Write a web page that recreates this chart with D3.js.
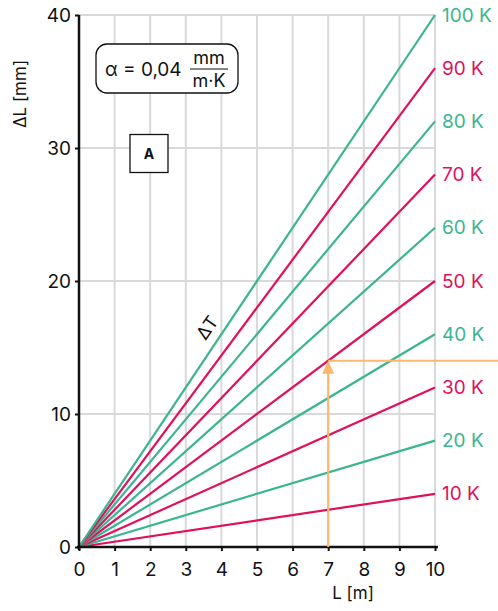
<!DOCTYPE html>
<html><head><meta charset="utf-8">
<script src="https://cdn.jsdelivr.net/npm/d3@7"></script>
<style>body{margin:0;background:#fff}svg{display:block;font-family:Inter,"Noto Sans",sans-serif}</style>
</head><body>
<script>
const deltaT = [10,20,30,40,50,60,70,80,90,100];
const lineLabels = ["10 K","20 K","30 K","40 K","50 K","60 K","70 K","80 K","90 K","100 K"];
const alpha = 0.04;
const lengthRange = [0,10];
const xTicks = [0,1,2,3,4,5,6,7,8,9,10];
const yTicks = [0,10,20,30,40];
const exampleL = [7];
const exampleDL = [14];
const green = "#3bb58f", pink = "#e0105c", orange = "#fdb66c";

const W=498,H=611;
const svg=d3.select("body").append("svg").attr("width",W).attr("height",H);
const x=d3.scaleLinear().domain([0,10]).range([79,435]);
const y=d3.scaleLinear().domain([0,40]).range([547,15]);

// grid
svg.append("g").selectAll("line").data(xTicks.slice(1)).join("line")
 .attr("x1",d=>x(d)).attr("x2",d=>x(d)).attr("y1",y(0)).attr("y2",y(40))
 .attr("stroke","#d9d9d9").attr("stroke-width",2);
svg.append("g").selectAll("line").data(yTicks.slice(1)).join("line")
 .attr("x1",x(0)).attr("x2",x(10)).attr("y1",d=>y(d)).attr("y2",d=>y(d))
 .attr("stroke","#d9d9d9").attr("stroke-width",2);

// lines
const lg=svg.append("g");
deltaT.forEach((t,i)=>{
  const c = (t/10)%2===0?green:pink;
  lg.append("line").attr("x1",x(lengthRange[0])).attr("y1",y(alpha*lengthRange[0]*t))
    .attr("x2",x(lengthRange[1])).attr("y2",y(alpha*lengthRange[1]*t))
    .attr("stroke",c).attr("stroke-width",2.2);
  svg.append("text").attr("x",x(10)+7).attr("y",y(alpha*10*t)).attr("dy","0.35em")
    .attr("fill",c).attr("font-size",19).text(lineLabels[i]);
});

// axes
const xa=svg.append("g").attr("transform",`translate(0,${y(0)})`)
 .call(d3.axisBottom(x).tickValues(xTicks).tickSize(4).tickSizeOuter(0));
const ya=svg.append("g").attr("transform",`translate(${x(0)},0)`)
 .call(d3.axisLeft(y).tickValues(yTicks).tickSize(4).tickSizeOuter(0));
[xa,ya].forEach(a=>{a.select(".domain").attr("stroke","#111").attr("stroke-width",2.5);
 a.selectAll(".tick line").attr("stroke","#111").attr("stroke-width",2);
 a.selectAll("text").attr("font-size",19).attr("fill","#111").attr("font-family","Inter,sans-serif");});
xa.select(".domain").attr("d",`M${x(0)-2},0H${x(10)+3}`);
ya.select(".domain").attr("d",`M0,${y(40)}V${y(0)+3}`);
xa.selectAll("text").attr("dy","1.15em");
ya.selectAll("text").attr("dx","-1px");

// axis titles
svg.append("text").attr("transform","translate(26,94) rotate(-90)").attr("text-anchor","middle")
 .attr("font-size",17).attr("fill","#111").text("ΔL [mm]");
svg.append("text").attr("x",353).attr("y",599).attr("text-anchor","middle")
 .attr("font-size",17).attr("fill","#111").text("L [m]");

// ΔT label
svg.append("text").attr("transform",`translate(${x(3.6)},${y(16.5)}) rotate(-55)`).attr("text-anchor","middle")
 .attr("dy","0.35em").attr("font-size",18).attr("fill","#111").text("ΔT");

// example orange
const ex=exampleL[0], ey=exampleDL[0];
svg.append("line").attr("x1",x(ex)).attr("x2",x(ex)).attr("y1",y(0)).attr("y2",y(ey)+8)
 .attr("stroke",orange).attr("stroke-width",2);
svg.append("line").attr("x1",x(ex)).attr("x2",W).attr("y1",y(ey)).attr("y2",y(ey))
 .attr("stroke",orange).attr("stroke-width",2);
svg.append("path").attr("d",`M${x(ex)},${y(ey)}l-6,13h12z`).attr("fill",orange);

// alpha box
svg.append("rect").attr("x",96).attr("y",44).attr("width",142).attr("height",49).attr("rx",11)
 .attr("fill","#fff").attr("stroke","#111").attr("stroke-width",1.3);
svg.append("text").attr("x",105).attr("y",76).attr("font-size",19).attr("fill","#111").text("α = 0,04");
svg.append("text").attr("x",209).attr("y",64).attr("text-anchor","middle").attr("font-size",18).attr("fill","#111").text("mm");
svg.append("line").attr("x1",190).attr("x2",228).attr("y1",69).attr("y2",69).attr("stroke","#111").attr("stroke-width",1.2);
svg.append("text").attr("x",209).attr("y",87).attr("text-anchor","middle").attr("font-size",18).attr("fill","#111").text("m·K");

// A box
svg.append("rect").attr("x",130).attr("y",134.5).attr("width",38).attr("height",38)
 .attr("fill","#fff").attr("stroke","#111").attr("stroke-width",1.3);
svg.append("text").attr("x",149).attr("y",154).attr("dy","0.35em").attr("text-anchor","middle")
 .attr("font-size",14).attr("font-weight","bold").attr("fill","#111").text("A");
</script>
</body></html>
